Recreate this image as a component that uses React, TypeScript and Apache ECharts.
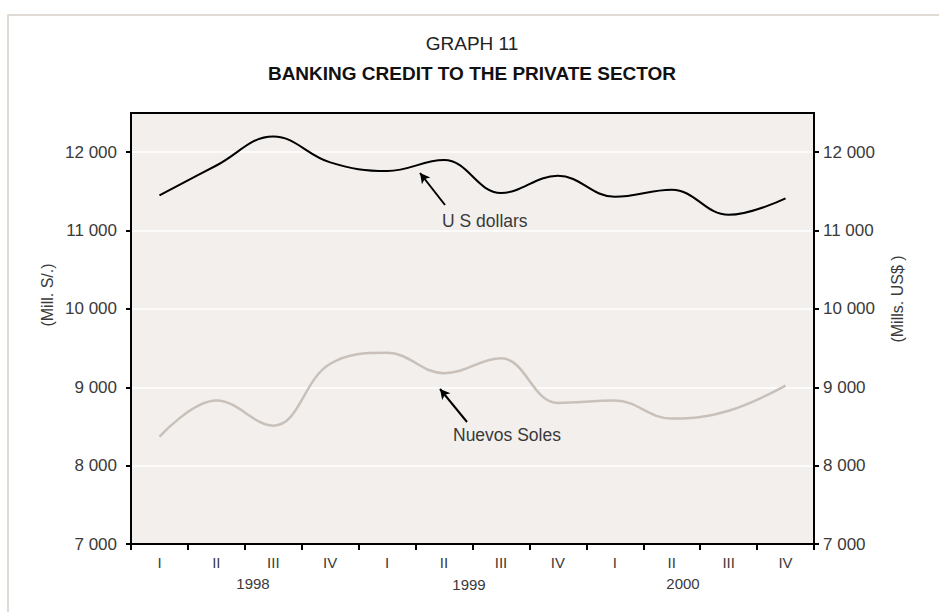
import React, { useEffect, useRef } from "react";
import * as echarts from "echarts";

const quarters = ["I", "II", "III", "IV", "I", "II", "III", "IV", "I", "II", "III", "IV"];
const years = ["1998", "1999", "2000"];
const usDollars = [11450, 11830, 12200, 11870, 11760, 11900, 11480, 11700, 11430, 11520, 11200, 11410];
const nuevosSoles = [8370, 8830, 8510, 9300, 9440, 9180, 9370, 8800, 8830, 8600, 8700, 9020];
const yTicks = [7000, 8000, 9000, 10000, 11000, 12000];
const yMin = 7000;
const yMax = 12500;

const FONT = "'Liberation Sans', Arial, sans-serif";
const TXT = "#3a3a3a";

const fmt = (v: number) => `${Math.floor(v / 1000)} ${String(v % 1000).padStart(3, "0")}`;

export default function App() {
  const ref = useRef<HTMLDivElement>(null);
  useEffect(() => {
    if (!ref.current) return;
    const chart = echarts.init(ref.current, undefined, { renderer: "svg" });
    const yAxisCommon = {
      type: "value",
      min: yMin,
      max: yMax,
      interval: 1000,
      axisLine: { show: true, lineStyle: { color: "#000", width: 2 } },
      axisTick: { show: true, length: 5, customValues: yTicks, lineStyle: { color: "#000", width: 2 } },
      axisLabel: {
        customValues: yTicks,
        formatter: (v: number) => fmt(v),
        color: TXT,
        fontFamily: FONT,
        fontSize: 17,
      },
    };
    chart.setOption({
      animation: false,
      backgroundColor: "#fff",
      grid: {
        left: 131,
        right: 125,
        top: 113,
        bottom: 68,
        show: true,
        backgroundColor: "#f2efed",
        borderColor: "#000",
        borderWidth: 2,
        containLabel: false,
        outerBoundsMode: "none",
      },
      xAxis: {
        type: "category",
        data: quarters,
        boundaryGap: true,
        axisLine: { show: true, lineStyle: { color: "#000", width: 2 } },
        axisTick: { show: true, interval: 0, length: 6, lineStyle: { color: "#000", width: 2 } },
        axisLabel: { interval: 0, margin: 11, color: TXT, fontFamily: FONT, fontSize: 15 },
        splitLine: { show: false },
      },
      yAxis: [
        {
          ...yAxisCommon,
          position: "left",
          axisLabel: { ...yAxisCommon.axisLabel, margin: 14 },
          splitLine: { show: true, lineStyle: { color: "#ffffff", width: 1.5 } },
        },
        {
          ...yAxisCommon,
          position: "right",
          axisLabel: { ...yAxisCommon.axisLabel, margin: 9 },
          splitLine: { show: false },
        },
      ],
      series: [
        {
          name: "Nuevos Soles",
          type: "line",
          yAxisIndex: 0,
          data: nuevosSoles,
          smooth: 0.4,
          symbol: "none",
          lineStyle: { color: "#c9c1b9", width: 2.5 },
          markLine: {
            silent: true,
            symbol: ["none", "arrow"],
            symbolSize: [8, 10],
            label: { show: false },
            lineStyle: { color: "#000", width: 2, type: "solid" },
            data: [[{ x: 467, y: 422 }, { x: 440, y: 389 }]],
          },
        },
        {
          name: "U S dollars",
          type: "line",
          yAxisIndex: 1,
          data: usDollars,
          smooth: 0.4,
          symbol: "none",
          lineStyle: { color: "#000", width: 2 },
          markLine: {
            silent: true,
            symbol: ["none", "arrow"],
            symbolSize: [8, 10],
            label: { show: false },
            lineStyle: { color: "#000", width: 2, type: "solid" },
            data: [[{ x: 445, y: 205 }, { x: 420, y: 173 }]],
          },
        },
      ],
      graphic: [
        {
          type: "rect",
          shape: { x: 8, y: 15, width: 960, height: 640 },
          style: { fill: "none", stroke: "#d6cfc8", lineWidth: 1.5 },
          silent: true,
        },
        {
          type: "text",
          x: 472,
          y: 43,
          style: { text: "GRAPH 11", fill: "#222", font: `19px ${FONT}`, align: "center", verticalAlign: "middle" },
        },
        {
          type: "text",
          x: 472,
          y: 73,
          style: {
            text: "BANKING CREDIT TO THE PRIVATE SECTOR",
            fill: "#111",
            font: `bold 19px ${FONT}`,
            align: "center",
            verticalAlign: "middle",
          },
        },
        {
          type: "text",
          x: 47,
          y: 295,
          rotation: Math.PI / 2,
          style: { text: "(Mill. S/.)", fill: TXT, font: `16px ${FONT}`, align: "center", verticalAlign: "middle" },
        },
        {
          type: "text",
          x: 897,
          y: 299,
          rotation: Math.PI / 2,
          style: { text: "(Mills. US$ )", fill: TXT, font: `16px ${FONT}`, align: "center", verticalAlign: "middle" },
        },
        {
          type: "text",
          x: 442,
          y: 221,
          style: { text: "U S dollars", fill: TXT, font: `17.5px ${FONT}`, align: "left", verticalAlign: "middle" },
        },
        {
          type: "text",
          x: 453,
          y: 435,
          style: { text: "Nuevos Soles", fill: TXT, font: `17.5px ${FONT}`, align: "left", verticalAlign: "middle" },
        },
        {
          type: "text",
          x: 253,
          y: 583,
          style: { text: years[0], fill: TXT, font: `15px ${FONT}`, align: "center", verticalAlign: "middle" },
        },
        {
          type: "text",
          x: 469,
          y: 584,
          style: { text: years[1], fill: TXT, font: `15px ${FONT}`, align: "center", verticalAlign: "middle" },
        },
        {
          type: "text",
          x: 683,
          y: 583,
          style: { text: years[2], fill: TXT, font: `15px ${FONT}`, align: "center", verticalAlign: "middle" },
        },
      ],
    });
    return () => chart.dispose();
  }, []);
  return (
    <div
      ref={ref}
      style={{ position: "fixed", left: 0, top: 0, width: 939, height: 612 }}
    />
  );
}
